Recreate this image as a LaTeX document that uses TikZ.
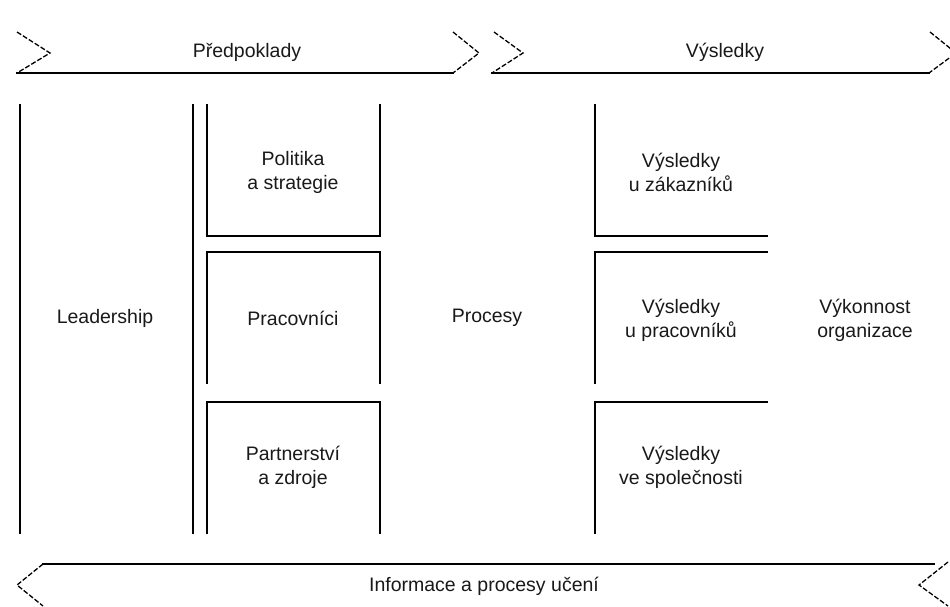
\documentclass[tikz,border=0pt]{standalone}
\usepackage{fontspec}
\setmainfont{Liberation Sans}
\begin{document}
\begin{tikzpicture}[x=1pt,y=-1pt,
  frame/.style={line width=1.7pt,line cap=rect},
  chev/.style={line width=1.3pt,dash pattern=on 5pt off 2pt},
  lbl/.style={font=\fontsize{19.5}{24}\selectfont,align=center,text=black!90}]
\useasboundingbox[fill=white] (0,0) rectangle (950,606);
% top arrows
\draw[chev] (17,32) -- (50,53) -- (17,73);
\draw[frame] (17,73) -- (453,73);
\draw[chev] (453,32) -- (479,53) -- (453,73);
\draw[chev] (494,32) -- (523,53) -- (492,73);
\draw[frame] (492,73) -- (929,73);
\draw[chev] (930,32) -- (956,53) -- (929,73);
\node[lbl] (pred) at (247,52) {Předpoklady};
\node[lbl] (vys) at (725,52) {Výsledky};
% left columns
\draw[frame] (20,105) -- (20,533);
\draw[frame] (193,105) -- (193,533);
\draw[frame] (207,105) -- (207,236) -- (380,236) -- (380,105);
\draw[frame] (207,383) -- (207,252) -- (380,252) -- (380,383);
\draw[frame] (207,533) -- (207,402) -- (380,402) -- (380,533);
% right columns
\draw[frame] (595,105) -- (595,236) -- (767,236);
\draw[frame] (595,383) -- (595,252) -- (767,252);
\draw[frame] (595,533) -- (595,402) -- (767,402);
% bottom arrow
\draw[frame] (43,564) -- (934,564);
\draw[chev] (43,564) -- (17,585) -- (43,606);
\draw[chev] (948,562) -- (919,585) -- (948,606);
\node[lbl] (info) at (484,586) {Informace a procesy učení};
% labels
\node[lbl] (lead) at (105,318) {Leadership};
\node[lbl] (pol) at (293,172) {Politika\\a strategie};
\node[lbl] (prac) at (293,318) {Pracovníci};
\node[lbl] (part) at (293,467) {Partnerství\\a zdroje};
\node[lbl] (proc) at (487,318) {Procesy};
\node[lbl] (vz) at (681,172) {Výsledky\\u zákazníků};
\node[lbl] (vp) at (681,320) {Výsledky\\u pracovníků};
\node[lbl] (vs) at (681,467) {Výsledky\\ve společnosti};
\node[lbl] (vo) at (865,320) {Výkonnost\\organizace};
\end{tikzpicture}
\end{document}
